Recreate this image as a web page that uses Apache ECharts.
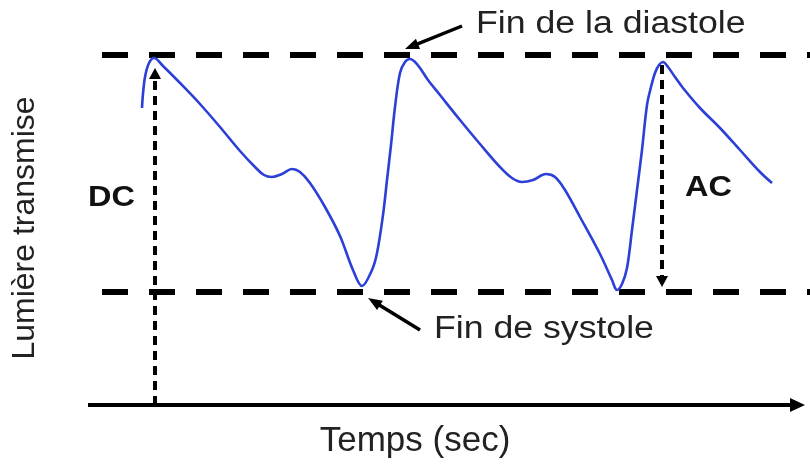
<!DOCTYPE html>
<html><head><meta charset="utf-8">
<script src="https://cdn.jsdelivr.net/npm/echarts@6/dist/echarts.min.js"></script>
<style>html,body{margin:0;padding:0;background:#fff}#c{width:810px;height:469px}</style>
</head><body><div id="c"></div>
<script>
// PPG waveform (time in s, transmitted light in arbitrary units)
const timeSec = [0.54,0.547,0.57,0.61,0.66,0.75,0.92,1.12,1.32,1.52,1.67,1.76,1.84,1.94,2.04,2.12,2.22,2.37,2.52,2.65,2.74,2.84,2.89,2.95,2.99,3.03,3.07,3.12,3.17,3.22,3.27,3.32,3.40,3.52,3.72,3.92,4.12,4.24,4.34,4.45,4.58,4.67,4.77,4.92,5.12,5.24,5.29,5.34,5.39,5.44,5.49,5.54,5.59,5.63,5.67,5.71,5.75,5.80,5.87,5.95,6.12,6.32,6.52,6.72,6.84];
const light = [297,308,328,342,347,339,322,301,278,254,238,230,228,231,236,233,222,198,169,135,119,135,152,190,225,260,298,332,343,346,343,337,325,310,285,261,238,227,223,225,231,228,215,188,151,125,115,121,137,175,215,255,300,318,332,340,343,338,328,317,297,277,255,233,222];

// reference levels
const levelDiastole = 350;   // end of diastole (peaks)
const levelSystole = 113;    // end of systole (troughs)
const levelSpan = [0.14, 7.22];

// arrows (data coords): [from, to]
const dcArrow = [[0.67, 0], [0.67, 331.5]];
const acArrow = [[5.74, 340], [5.74, 123.5]];
const timeArrow = [[0, 0], [7.095, 0]];
const diastoleArrow = [[3.74, 379], [3.235, 358.6]];
const systoleArrow = [[3.32, 75], [2.86, 103.3]];

// texts
const labels = ['Fin de la diastole', 'Fin de systole', 'DC', 'AC'];
const xName = 'Temps (sec)';
const yName = 'Lumière transmise';

const FONT = '"Liberation Sans", Arial, Helvetica, sans-serif';
const chart = echarts.init(document.getElementById('c'));

function ml(pair, style, symbols, size) {
  return {
    type: 'line', data: [], silent: true,
    markLine: {
      silent: true, animation: false,
      symbol: symbols, symbolSize: size,
      label: { show: false },
      emphasis: { disabled: true },
      lineStyle: style,
      data: [[{ coord: pair[0] }, { coord: pair[1] }]]
    }
  };
}

const hStyle = { color: '#000', width: 6, type: [26, 21], opacity: 1 };
const vStyle = { color: '#000', width: 4, type: [9, 6], opacity: 1 };
const sStyle = { color: '#000', width: 3.5, type: 'solid', opacity: 1 };

chart.setOption({
  backgroundColor: '#fff',
  animation: false,
  grid: { left: 88, right: 0, top: 0, bottom: 64 },
  xAxis: {
    type: 'value', min: 0, max: 7.22,
    axisLine: { show: false }, axisTick: { show: false }, axisLabel: { show: false }, splitLine: { show: false },
    name: xName, nameLocation: 'middle', nameGap: 19,
    nameTextStyle: { fontFamily: FONT, fontSize: 35, color: '#222', padding: [0, 68, 0, 0] }
  },
  yAxis: {
    type: 'value', min: 0, max: 405,
    axisLine: { show: false }, axisTick: { show: false }, axisLabel: { show: false }, splitLine: { show: false },
    name: yName, nameLocation: 'middle', nameGap: 47,
    nameTextStyle: { fontFamily: FONT, fontSize: 32, color: '#222', padding: [0, 51, 0, 0] }
  },
  series: [
    ml([[levelSpan[0], levelDiastole], [levelSpan[1], levelDiastole]], hStyle, ['none', 'none'], 0),
    ml([[levelSpan[0], levelSystole], [levelSpan[1], levelSystole]], hStyle, ['none', 'none'], 0),
    ml(dcArrow, vStyle, ['none', 'triangle'], [12, 11]),
    ml(acArrow, vStyle, ['none', 'triangle'], [12, 11]),
    ml(timeArrow, { color: '#000', width: 4, type: 'solid', opacity: 1 }, ['none', 'triangle'], [14, 15]),
    ml(diastoleArrow, sStyle, ['none', 'triangle'], [11, 14]),
    ml(systoleArrow, sStyle, ['none', 'triangle'], [11, 14]),
    {
      type: 'line', name: yName, z: 5,
      data: timeSec.map((t, i) => [t, light[i]]),
      symbol: 'none', smooth: 0.35,
      lineStyle: { color: '#2c3fd6', width: 2.6 }
    }
  ],
  graphic: [
    { type: 'text', x: 476, y: 24, scaleX: 1.15, style: { text: labels[0], font: '31px ' + FONT, fill: '#222', verticalAlign: 'middle', align: 'left' } },
    { type: 'text', x: 434, y: 329, scaleX: 1.15, style: { text: labels[1], font: '31px ' + FONT, fill: '#222', verticalAlign: 'middle', align: 'left' } },
    { type: 'text', x: 88, y: 198, scaleX: 1.12, style: { text: labels[2], font: 'bold 29px ' + FONT, fill: '#111', verticalAlign: 'middle', align: 'left' } },
    { type: 'text', x: 685, y: 188, scaleX: 1.12, style: { text: labels[3], font: 'bold 29px ' + FONT, fill: '#111', verticalAlign: 'middle', align: 'left' } }
  ]
});
</script></body></html>
